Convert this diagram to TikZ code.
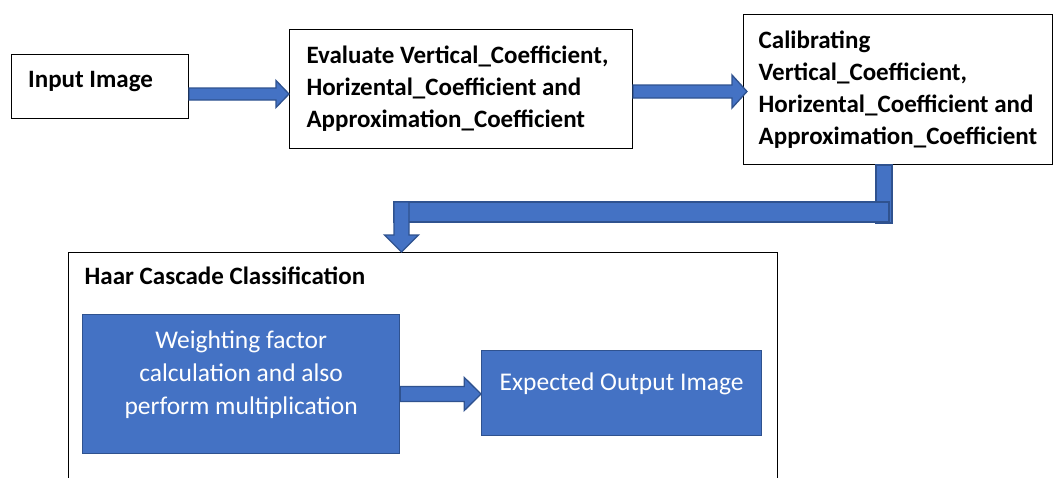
\documentclass[tikz,border=0pt]{standalone}
\usepackage{fontspec}
\setmainfont{Carlito}
\usetikzlibrary{calc}
\definecolor{obl}{HTML}{4472C4}
\definecolor{odk}{HTML}{2F528F}
\tikzset{
  wbox/.style={draw=black, line width=1pt, fill=white, rectangle, inner sep=0pt, anchor=north west},
  bbox/.style={draw=odk, line width=1.3pt, fill=obl, rectangle, inner sep=0pt, anchor=north west},
  btext/.style={font=\fontsize{25.5}{33}\selectfont, text=white, align=center, inner sep=0pt},
  wtext/.style={font=\fontsize{25}{32}\selectfont\bfseries, text=black, align=flush left},
  barrow/.style={draw=odk, line width=1.3pt, fill=obl, line join=miter},
}
\newcommand{\harrow}[5]{%
  \path[barrow] ($(#1)+(0,-#3)$) -- ($(#2)+(-#5,-#3)$) -- ($(#2)+(-#5,-#4)$) -- (#2)
    -- ($(#2)+(-#5,#4)$) -- ($(#2)+(-#5,#3)$) -- ($(#1)+(0,#3)$) -- cycle;}
\begin{document}
\begin{tikzpicture}[x=1pt,y=-1pt]
\clip (0,0) rectangle (1056,477);
\fill[white] (0,0) rectangle (1056,477);

% top row
\node[wbox, minimum width=177pt, minimum height=64pt,
      label={[wtext, inner sep=0pt, anchor=west, xshift=17pt, yshift=5pt]west:Input Image}] (in) at (11,54) {};
\node[wbox, wtext, minimum width=343pt, minimum height=119pt, text width=309pt, inner xsep=17pt] (ev) at (289,29)
  {Evaluate Vertical\_Coefficient,\\Horizental\_Coefficient and\\Approximation\_Coefficient};
\node[wbox, wtext, minimum width=309pt, minimum height=150pt] (cal) at (743,14)
  {Calibrating\\Vertical\_Coefficient,\\Horizental\_Coefficient and\\Approximation\_Coefficient};

% Haar cascade container
\node[wbox, minimum width=709pt, minimum height=260pt,
      label={[font=\fontsize{25}{32}\selectfont\bfseries, inner sep=0pt, anchor=west, xshift=17pt, yshift=-24pt]north west:Haar Cascade Classification}] (haar) at (67.5,252) {};
\node[bbox, minimum width=317pt, minimum height=139pt,
      label={[btext, yshift=9pt]center:Weighting factor\\calculation and also\\perform multiplication}] (wf) at (82,314) {};
\node[bbox, minimum width=280pt, minimum height=85pt,
      label={[btext, yshift=9pt]center:Expected Output Image}] (eo) at (481,350) {};

% straight block arrows
\coordinate (a1s) at (in.east |- 0,94);
\coordinate (a1e) at (ev.west |- 0,94);
\harrow{a1s}{a1e}{6}{13.5}{13}
\coordinate (a2s) at (ev.east |- 0,91.5);
\coordinate (a2e) at ($(cal.west |- 0,91.5)+(4,0)$);
\harrow{a2s}{a2e}{6.5}{16.5}{15}
\coordinate (a3s) at (wf.east |- 0,394);
\coordinate (a3e) at (eo.west |- 0,394);
\harrow{a3s}{a3e}{7.5}{16.5}{16.7}

% bent block arrow: down leg, long bar, down arrow into container
\coordinate (b0) at ($(cal.south west)+(133,0)$);
\coordinate (bt) at ($(haar.north west)+(334,0)$);
\path[barrow] (b0) rectangle ($(b0)+(16,58)$);
\path[barrow] ($(bt)+(-7.5,-50)$) rectangle ($(b0)+(13,57)$);
\path[barrow] ($(bt)+(-7.5,-50)$) -- ($(bt)+(7.5,-50)$) -- ($(bt)+(7.5,-17)$)
  -- ($(bt)+(17,-17)$) -- (bt) -- ($(bt)+(-17,-17)$) -- ($(bt)+(-7.5,-17)$) -- cycle;
\end{tikzpicture}
\end{document}
